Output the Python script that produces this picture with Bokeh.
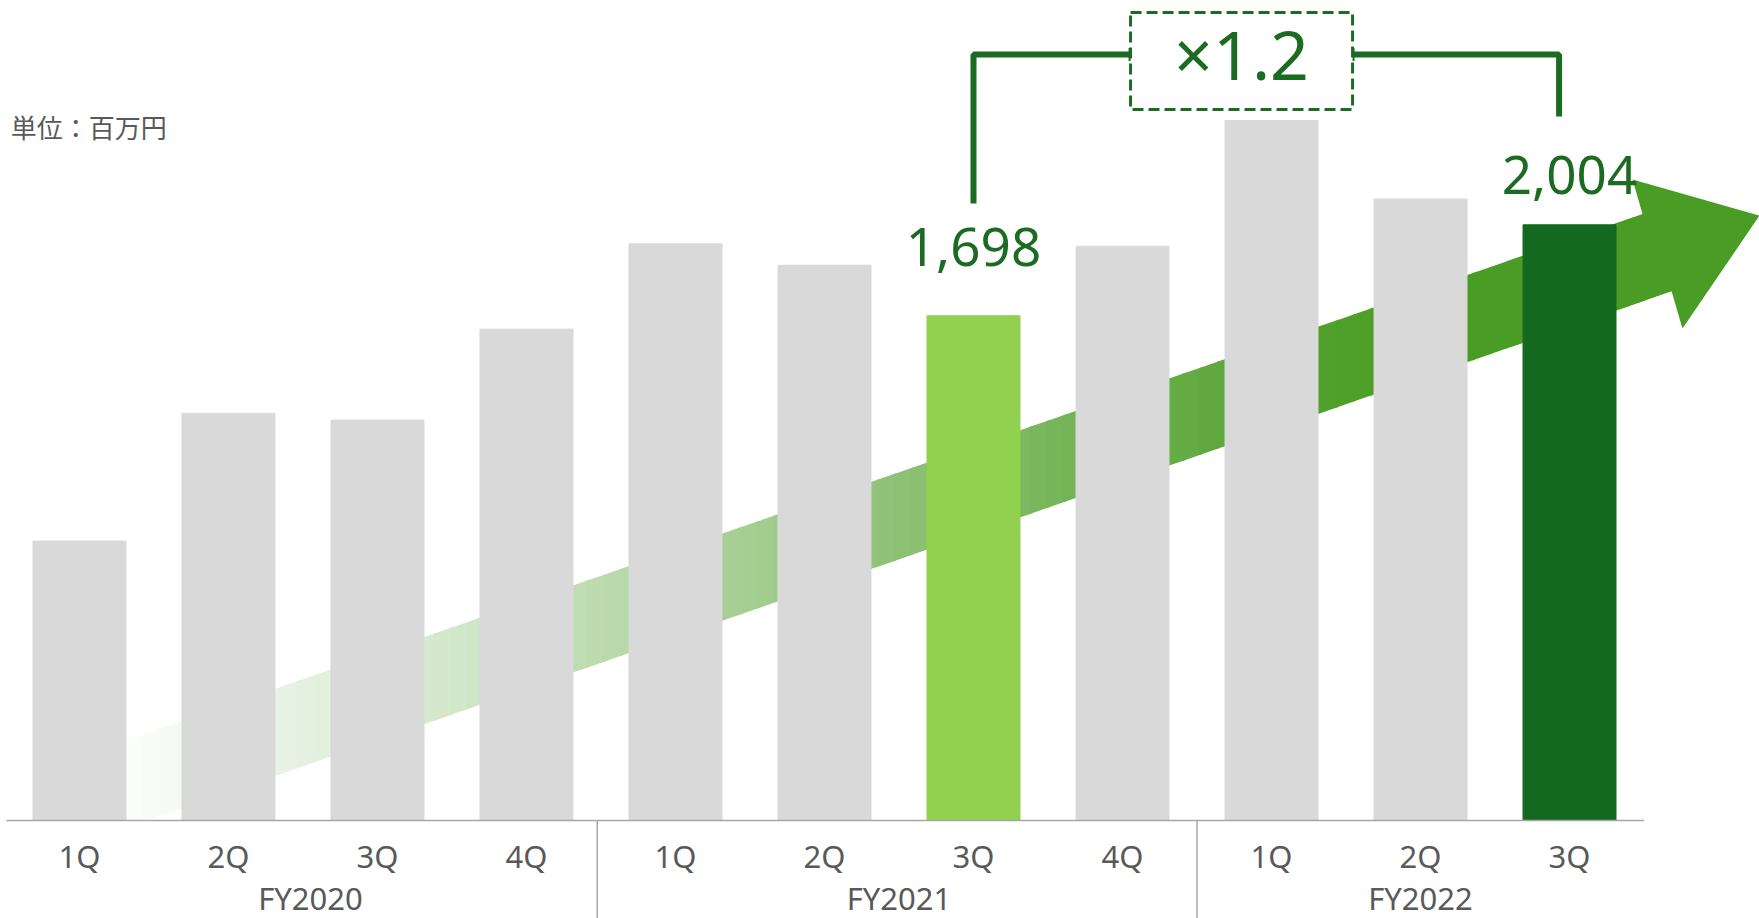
from bokeh.plotting import figure
from bokeh.models import Range1d, ColumnDataSource
from bokeh.core.properties import value
from bokeh.embed import file_html
from bokeh.resources import INLINE

# ---------------- data ----------------
quarters = ["1Q", "2Q", "3Q", "4Q", "1Q", "2Q", "3Q", "4Q", "1Q", "2Q", "3Q"]
fiscal_years = ["FY2020", "FY2021", "FY2022"]
fy_counts = [4, 4, 3]
sales = [940, 1370, 1347, 1653, 1940, 1868, 1698, 1932, 2355, 2091, 2004]
unit_label = "単位：百万円"
compare_from = 6     # FY2021 3Q
compare_to = 10      # FY2022 3Q
ratio_label = "×1.2"

# ---------------- style ----------------
GRAY = "#D9D9D9"
LIGHT_GREEN = "#92D050"
DARK_GREEN = "#15681F"
TEXT_GREEN = "#1B6B22"
ARROW_GREEN = (74, 157, 36)
AXIS_GRAY = "#A6A6A6"
TICK_TEXT = "#595959"
LATIN = value("Noto Sans")
CJK = value("Noto Sans CJK JP")

W, H = 1759, 918
p = figure(width=W, height=H, output_backend="svg", toolbar_location=None,
           x_range=Range1d(-0.530, 11.275), y_range=Range1d(-329.7, 2758.6),
           min_border=0, x_axis_type=None, y_axis_type=None)
p.outline_line_color = None
p.xgrid.visible = False
p.ygrid.visible = False
p.background_fill_color = "white"
p.border_fill_color = "white"

n = len(sales)
xs = list(range(n))

# ---------------- gradient arrow (decoration) ----------------
slope = 174.0
thick = 293.0
def top(x):
    return 1833.0 + slope * (x - 9.302)
def bot(x):
    return top(x) - thick

stops_x = [0.2, 0.5, 2.5, 4.5, 6.5, 8.5, 9.0, 12.0]
stops_t = [0.0, 0.04, 0.24, 0.5, 0.75, 0.98, 1.0, 1.0]
def t_at(x):
    for i in range(len(stops_x) - 1):
        if stops_x[i] <= x <= stops_x[i + 1]:
            f = (x - stops_x[i]) / (stops_x[i + 1] - stops_x[i])
            return stops_t[i] + f * (stops_t[i + 1] - stops_t[i])
    return 1.0
def col(t):
    r = round(255 + (ARROW_GREEN[0] - 255) * t)
    g = round(255 + (ARROW_GREEN[1] - 255) * t)
    b = round(255 + (ARROW_GREEN[2] - 255) * t)
    return "#%02x%02x%02x" % (r, g, b)

x0, xh = 0.2, 10.49
N = 90
pxs, pys, pcs = [], [], []
for k in range(N):
    a = x0 + (xh - x0) * k / N
    b = x0 + (xh - x0) * (k + 1) / N + 0.02
    pxs.append([a, a, b, b])
    pys.append([max(bot(a), 0), top(a), top(b), max(bot(b), 0)])
    pcs.append(col(t_at((a + b) / 2)))
p.patches(pxs, pys, fill_color=pcs, line_color=None)

xo = 9.6
head_x = [xo, xo, xh, 10.423, 11.275, 10.758, 10.685]
head_y = [bot(xo), top(xo), top(xh), 2156, 2035, 1655, bot(10.685)]
p.patch(head_x, head_y, fill_color=col(1.0), line_color=None)

# ---------------- bars ----------------
colors = [GRAY] * n
colors[compare_from] = LIGHT_GREEN
colors[compare_to] = DARK_GREEN
src = ColumnDataSource(dict(x=xs, top=sales, color=colors))
p.vbar(x="x", top="top", width=0.624, bottom=0, color="color", source=src)

# ---------------- axis ----------------
p.segment(x0=[-0.49], y0=[0], x1=[n - 0.5], y1=[0], line_color=AXIS_GRAY, line_width=1.5)
bounds = []
c = 0
for cnt in fy_counts[:-1]:
    c += cnt
    bounds.append(c - 0.5)
bounds[0] -= 0.025
p.segment(x0=bounds, y0=[0] * len(bounds), x1=bounds, y1=[-340] * len(bounds),
          line_color=AXIS_GRAY, line_width=1.5)

p.text(x=xs, y=[-120] * n, text=quarters, text_font=LATIN, text_font_size="31px",
       text_color=TICK_TEXT, text_align="center", text_baseline="middle")
fy_x = []
c = 0
for cnt in fy_counts:
    fy_x.append(c + (cnt - 1) / 2)
    c += cnt
fy_x[0] += 0.05
p.text(x=fy_x, y=[-262] * len(fy_x), text=fiscal_years, text_font=LATIN,
       text_font_size="31px", text_color=TICK_TEXT, text_align="center",
       text_baseline="middle")

# ---------------- unit ----------------
p.text(x=[-0.462], y=[2334], text=[unit_label], text_font=CJK, text_font_size="26px",
       text_color=TICK_TEXT, text_align="left", text_baseline="middle")

# ---------------- value labels ----------------
lab_idx = [compare_from, compare_to]
lab_off = [232, 168]
p.text(x=lab_idx, y=[sales[i] + o for i, o in zip(lab_idx, lab_off)],
       text=[f"{sales[i]:,}" for i in lab_idx], text_font=LATIN, text_font_size="53px",
       text_color=TEXT_GREEN, text_align="center", text_baseline="middle")

# ---------------- bracket & ratio box ----------------
yb = 2577
box_l, box_r, box_b, box_t = 7.054, 8.544, 2392, 2718
xr = compare_to - 0.07
p.line([compare_from, compare_from, box_l], [sales[compare_from] + 378, yb, yb],
       line_color=TEXT_GREEN, line_width=6)
p.line([box_r, xr, xr], [yb, yb, sales[compare_to] + 364],
       line_color=TEXT_GREEN, line_width=6)
p.segment(x0=[box_l, box_r], y0=[yb - 22, yb - 22], x1=[box_l, box_r], y1=[yb + 22, yb + 22],
          line_color=TEXT_GREEN, line_width=4)
p.quad(left=[box_l], right=[box_r], bottom=[box_b], top=[box_t], fill_color="white",
       line_color=TEXT_GREEN, line_width=3, line_dash="11 5")
p.text(x=[(box_l + box_r) / 2], y=[(box_b + box_t) / 2 + 25], text=[ratio_label],
       text_font=LATIN, text_font_size="68px", text_color=TEXT_GREEN,
       text_align="center", text_baseline="middle")

open("out.html", "w").write(file_html(p, INLINE))
